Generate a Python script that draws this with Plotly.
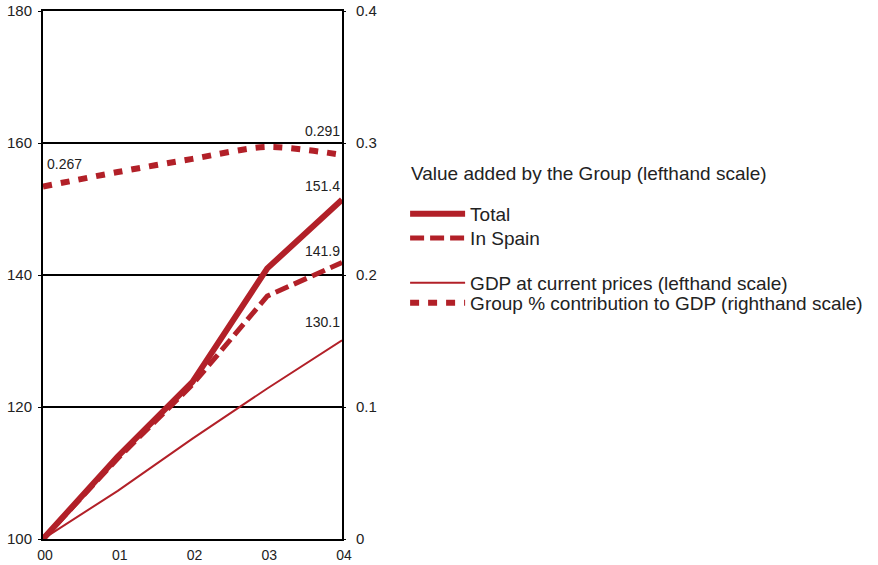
import plotly.graph_objects as go

years = [0, 1, 2, 3, 4]
year_labels = ["00", "01", "02", "03", "04"]
total = [100, 112.5, 123.8, 141.0, 151.4]
spain = [100, 112.2, 123.4, 136.8, 141.9]
gdp = [100, 107.3, 115.2, 122.8, 130.1]
contrib = [0.267, 0.278, 0.288, 0.297, 0.291]
left_ticks = [100, 120, 140, 160, 180]
right_ticks = [0, 0.1, 0.2, 0.3, 0.4]
right_labels = ["0", "0.1", "0.2", "0.3", "0.4"]

RED = "#b22028"
FONT = "Liberation Sans, Arial, sans-serif"
LEG_FONT = dict(family=FONT, size=19, color="#222")
TICK_FONT = dict(family=FONT, size=15, color="#222")

fig = go.Figure()
fig.add_trace(go.Scatter(x=years, y=total, name="Total", mode="lines",
                         line=dict(color=RED, width=6), legend="legend"))
fig.add_trace(go.Scatter(x=years, y=spain, name="In Spain", mode="lines",
                         line=dict(color=RED, width=5, dash="14px,6px"), legend="legend2"))
fig.add_trace(go.Scatter(x=years, y=gdp, name="GDP at current prices (lefthand scale)", mode="lines",
                         line=dict(color=RED, width=2), legend="legend3"))
fig.add_trace(go.Scatter(x=years, y=contrib, name="Group % contribution to GDP (righthand scale)",
                         mode="lines", yaxis="y2",
                         line=dict(color=RED, width=6, dash="9px,9px", shape="spline", smoothing=0.8),
                         legend="legend4"))

ann_font = dict(family=FONT, size=14, color="#222")
annotations = [
    dict(x=years[0], y=contrib[0], xref="x", yref="y2", text=f"{contrib[0]:.3f}",
         xanchor="left", yanchor="middle", yshift=23, xshift=2, showarrow=False, font=ann_font),
    dict(x=years[-1], y=contrib[-1], xref="x", yref="y2", text=f"{contrib[-1]:.3f}",
         xanchor="right", yanchor="middle", yshift=24, showarrow=False, font=ann_font),
    dict(x=years[-1], y=total[-1], xref="x", yref="y", text=f"{total[-1]:.1f}",
         xanchor="right", yanchor="middle", yshift=14, showarrow=False, font=ann_font),
    dict(x=years[-1], y=spain[-1], xref="x", yref="y", text=f"{spain[-1]:.1f}",
         xanchor="right", yanchor="middle", yshift=11, showarrow=False, font=ann_font),
    dict(x=years[-1], y=gdp[-1], xref="x", yref="y", text=f"{gdp[-1]:.1f}",
         xanchor="right", yanchor="middle", yshift=18, showarrow=False, font=ann_font),
    dict(x=1.223, y=0.693, xref="paper", yref="paper",
         text="Value added by the Group (lefthand scale)",
         xanchor="left", yanchor="middle", showarrow=False, font=LEG_FONT),
]

def leg(ypos):
    return dict(x=1.207, y=ypos, xanchor="left", yanchor="middle", itemwidth=55,
                bgcolor="rgba(0,0,0,0)", font=LEG_FONT)

fig.update_layout(
    width=878, height=565,
    margin=dict(l=43, r=535, t=11, b=26),
    paper_bgcolor="white", plot_bgcolor="white",
    font=dict(family=FONT, size=14, color="#222"),
    xaxis=dict(range=[0, 4], tickvals=years, ticktext=year_labels, showgrid=False,
               zeroline=False, showline=True, linecolor="black", linewidth=2, mirror=True,
               ticks="", tickfont=dict(family=FONT, size=14, color="#222"),
               automargin=False, ticklabelstandoff=2,
               ticklabelshift=2, ticklabeloverflow="allow"),
    yaxis=dict(range=[100, 180], tickvals=left_ticks, showgrid=True,
               gridcolor="black", gridwidth=1.5, zeroline=False, showline=True,
               linecolor="black", linewidth=2, mirror=True, ticks="outside", ticklen=3,
               tickcolor="black", tickfont=TICK_FONT, automargin=False,
               ticklabelstandoff=3, ticklabeloverflow="allow"),
    yaxis2=dict(range=[0, 0.4], tickvals=right_ticks, ticktext=right_labels,
                overlaying="y", side="right",
                showgrid=False, zeroline=False, showline=False, ticks="outside", ticklen=3,
                tickcolor="black", tickfont=TICK_FONT, automargin=False,
                ticklabelstandoff=7, ticklabeloverflow="allow"),
    showlegend=True,
    legend=leg(0.6155),
    legend2=leg(0.570),
    legend3=leg(0.485),
    legend4=leg(0.447),
    annotations=annotations,
)

fig.write_html("out.html", config={"displayModeBar": False},
               post_script="document.body.style.margin='0px';")
